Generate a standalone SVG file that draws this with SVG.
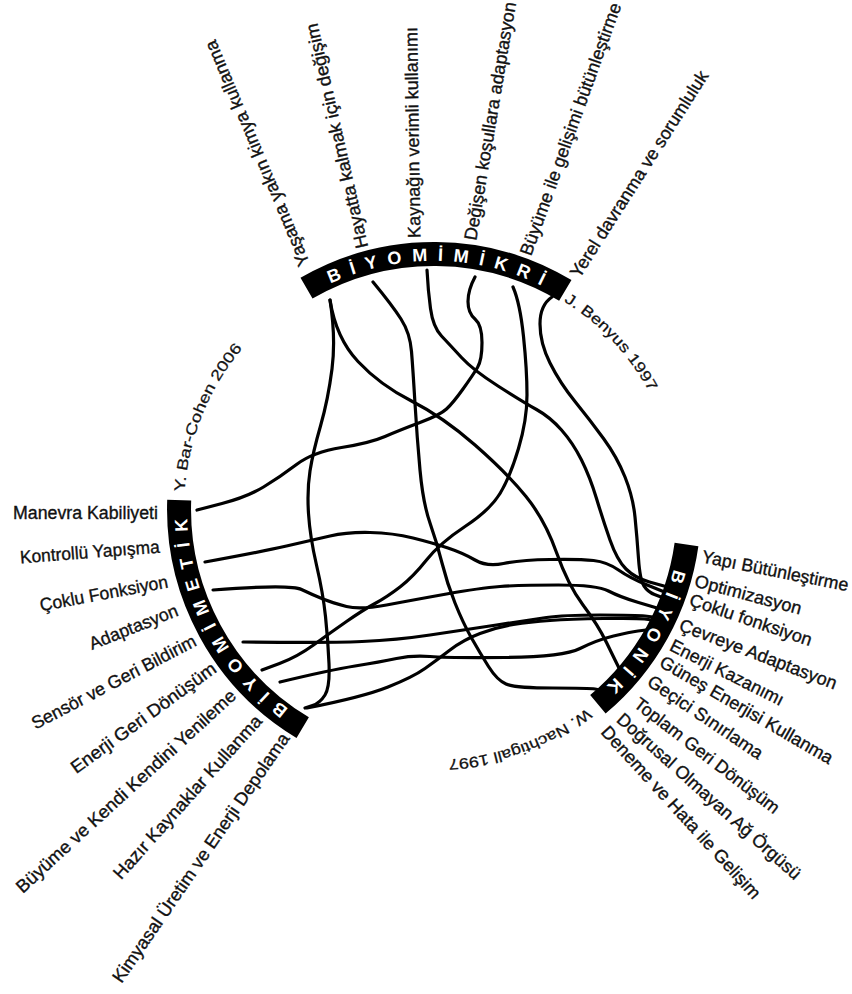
<svg xmlns="http://www.w3.org/2000/svg" width="852" height="994" viewBox="0 0 852 994">
<style>
.band{fill:none;stroke:#000;stroke-width:24;stroke-linecap:butt}
.bt{font-family:"Liberation Sans",Arial,sans-serif;font-weight:bold;font-size:18px;fill:#fff;letter-spacing:10.3px}
.lbl{font-family:"Liberation Sans",Arial,sans-serif;font-size:18px;fill:#111;stroke:#111;stroke-width:0.35}
.cit{font-family:"Liberation Sans",Arial,sans-serif;font-size:15px;fill:#111;stroke:#111;stroke-width:0.25}
.conn{fill:none;stroke:#000;stroke-width:3.2;stroke-linecap:round;stroke-linejoin:round}
</style>
<defs>
<path id="tpTop" d="M223.9,378.1 A247,247 0 0 1 651.5,390.9"/>
<path id="tpLeft" d="M420.6,755.6 A247,247 0 0 1 227.1,374.1"/>
<path id="tpRight" d="M650.2,389.6 A247,247 0 0 1 429.3,756"/>
<path id="tpBar" d="M184.6,491.6 A250,250 0 0 1 260.3,329.2"/>
<path id="tpBen" d="M563.8,301.2 A245,245 0 0 1 664.2,425.2"/>
<path id="tpNac" d="M586.8,708.1 A251,251 0 0 1 412.1,759"/>
</defs>
<rect width="852" height="994" fill="#fff"/>
<g id="connectors">
<path class="conn" d="M330,300 Q336,338 358,361.5 Q380,385 411.5,401 Q443,417 475,445 Q507,473 526,496.5 Q545,520 556.5,552.5 Q568,585 583,605 Q598,625 606.5,642.5 Q615,660 620,670 L625,680"/>
<path class="conn" d="M330,300 Q336,338 332,369 Q328,400 320.5,426 Q313,452 310,471 Q307,490 308.5,513.5 Q310,537 316.5,565 Q323,593 325.5,616.5 Q328,640 329,663.5 Q330,687 325,695 Q320,703 312.5,705.5 L305,708"/>
<path class="conn" d="M373,282 Q392,305 401,319 Q410,333 411.5,351.5 Q413,370 415,403.5 Q417,437 420,470 Q423,503 430,523 Q437,543 442,563 Q447,583 455,603 Q463,623 471.5,638 Q480,653 488.5,666.5 Q497,680 506,684 Q515,688 552.5,688 Q590,688 595,689 L600,690"/>
<path class="conn" d="M427,270 Q428,290 430.5,308.5 Q433,327 441.5,336 Q450,345 461.5,357.5 Q473,370 498,386 Q523,402 536.5,409.5 Q550,417 561.5,430 Q573,443 581.5,460 Q590,477 596.5,498.5 Q603,520 610,540 Q617,560 626,569 Q635,578 649.5,582 L664,586"/>
<path class="conn" d="M475,277 Q468,290 468,301.5 Q468,313 475,319 Q482,325 482,342.5 Q482,360 477.5,367.5 Q473,375 463,389 Q453,403 446.5,409 Q440,415 420,422.5 Q400,430 385,436.5 Q370,443 341.5,447.5 Q313,452 296.5,464.5 Q280,477 263.5,487 Q247,497 222,503.5 L197,510"/>
<path class="conn" d="M513,287 Q520,303 523.5,336.5 Q527,370 527,395 Q527,420 518.5,448.5 Q510,477 500,493.5 Q490,510 465,526.5 Q440,543 426.5,560 Q413,577 400,587 Q387,597 375,603.5 Q363,610 346.5,621.5 Q330,633 313.5,645 Q297,657 279.5,663.5 L262,670"/>
<path class="conn" d="M552,297 Q540,305 540,324 Q540,343 550,363 Q560,383 575,401.5 Q590,420 603.5,438.5 Q617,457 625,477 Q633,497 635,517 Q637,537 638.5,558.5 Q640,580 644,586 Q648,592 654.5,594.5 L661,597"/>
<path class="conn" d="M205,562 Q260,552 286.5,546 Q313,540 330,536 Q347,532 370,532.5 Q393,533 413,538 Q433,543 448,548 Q463,553 475,560 Q487,567 503.5,563.5 Q520,560 550,559.5 Q580,559 593.5,560.5 Q607,562 618.5,570 Q630,578 646,584.5 L662,591"/>
<path class="conn" d="M213,590 Q290,584 301.5,589.5 Q313,595 323,599 Q333,603 346.5,606.5 Q360,610 386.5,605 Q413,600 446.5,594 Q480,588 500,586.5 Q520,585 558.5,585 Q597,585 608.5,591 Q620,597 638.5,602.5 L657,608"/>
<path class="conn" d="M243,642 Q327,643 362,641.5 Q397,640 430,635 Q463,630 496.5,625 Q530,620 546.5,617.5 Q563,615 600,615 Q637,615 645,616 L653,617"/>
<path class="conn" d="M280,682 Q330,670 355,666 Q380,662 396.5,658.5 Q413,655 430,656.5 Q447,658 505,657.5 Q563,657 580,648.5 Q597,640 613.5,636 Q630,632 638,631 L646,630"/>
<path class="conn" d="M307,708 Q363,697 388,687 Q413,677 425,668.5 Q437,660 450,650 Q463,640 480,633.5 Q497,627 513.5,624.5 Q530,622 550,620.5 Q570,619 603.5,618.5 Q637,618 644.5,619 L652,620"/>
</g>
<g id="biyomimikri">
<path class="band" d="M306.5,288.2 A255,255 0 0 1 565.3,290.4"/>
<text class="bt"><textPath href="#tpTop" startOffset="50%" text-anchor="middle">BİYOMİMİKRİ</textPath></text>
<text class="cit"><textPath href="#tpBen" textLength="126" lengthAdjust="spacingAndGlyphs">J. Benyus 1997</textPath></text>
<g class="lbl">
<text transform="translate(305,265) rotate(-112.9)" dy="0.3em" textLength="243" lengthAdjust="spacingAndGlyphs">Yaşama yakın kimya kullanma</text>
<text transform="translate(363,248) rotate(-102.8)" dy="0.3em" textLength="230" lengthAdjust="spacingAndGlyphs">Hayatta kalmak için değişim</text>
<text transform="translate(415,238) rotate(-90.9)" dy="0.3em" textLength="211" lengthAdjust="spacingAndGlyphs">Kaynağın verimli kullanımı</text>
<text transform="translate(471,240) rotate(-80.5)" dy="0.3em" textLength="241" lengthAdjust="spacingAndGlyphs">Değişen koşullara adaptasyon</text>
<text transform="translate(526,255) rotate(-70.2)" dy="0.3em" textLength="267" lengthAdjust="spacingAndGlyphs">Büyüme ile gelişimi bütünleştirme</text>
<text transform="translate(575,276) rotate(-57.5)" dy="0.3em" textLength="241" lengthAdjust="spacingAndGlyphs">Yerel davranma ve sorumluluk</text>
</g>
</g>
<g id="biyomimetik">
<path class="band" d="M302.7,727.6 A255,255 0 0 1 179.2,500.1"/>
<text class="bt"><textPath href="#tpLeft" startOffset="50%" text-anchor="middle">BİYOMİMETİK</textPath></text>
<text class="cit"><textPath href="#tpBar" textLength="157" lengthAdjust="spacingAndGlyphs">Y. Bar-Cohen 2006</textPath></text>
<g class="lbl">
<text transform="translate(13,514)" dy="0.3em" textLength="145" lengthAdjust="spacingAndGlyphs">Manevra Kabiliyeti</text>
<text transform="translate(20,558) rotate(-4.4)" dy="0.3em" textLength="140" lengthAdjust="spacingAndGlyphs">Kontrollü Yapışma</text>
<text transform="translate(40,606) rotate(-10.6)" dy="0.3em" textLength="130" lengthAdjust="spacingAndGlyphs">Çoklu Fonksiyon</text>
<text transform="translate(90,645) rotate(-21.7)" dy="0.3em" textLength="94" lengthAdjust="spacingAndGlyphs">Adaptasyon</text>
<text transform="translate(33,725) rotate(-27.6)" dy="0.3em" textLength="183" lengthAdjust="spacingAndGlyphs">Sensör ve Geri Bildirim</text>
<text transform="translate(73,770) rotate(-36.1)" dy="0.3em" textLength="175" lengthAdjust="spacingAndGlyphs">Enerji Geri Dönüşüm</text>
<text transform="translate(19,890) rotate(-42.5)" dy="0.3em" textLength="291" lengthAdjust="spacingAndGlyphs">Büyüme ve Kendi Kendini Yenileme</text>
<text transform="translate(117,877) rotate(-48.2)" dy="0.3em" textLength="213" lengthAdjust="spacingAndGlyphs">Hazır Kaynaklar Kullanma</text>
<text transform="translate(117,981) rotate(-55.5)" dy="0.3em" textLength="298" lengthAdjust="spacingAndGlyphs">Kimyasal Üretim ve Enerji Depolama</text>
</g>
</g>
<g id="biyonik">
<path class="band" d="M686.5,544.5 A255,255 0 0 1 597.9,704.3"/>
<text class="bt"><textPath href="#tpRight" startOffset="50%" text-anchor="middle">BİYONİK</textPath></text>
<text class="cit"><textPath href="#tpNac" textLength="150" lengthAdjust="spacingAndGlyphs">W. Nachtigall 1997</textPath></text>
<g class="lbl">
<text transform="translate(702,557) rotate(11.2)" dy="0.3em" textLength="149" lengthAdjust="spacingAndGlyphs">Yapı Bütünleştirme</text>
<text transform="translate(695,581) rotate(15)" dy="0.3em" textLength="110" lengthAdjust="spacingAndGlyphs">Optimizasyon</text>
<text transform="translate(690,600) rotate(18.7)" dy="0.3em" textLength="128" lengthAdjust="spacingAndGlyphs">Çoklu fonksiyon</text>
<text transform="translate(680,625) rotate(20.9)" dy="0.3em" textLength="167" lengthAdjust="spacingAndGlyphs">Çevreye Adaptasyon</text>
<text transform="translate(671,645) rotate(26.8)" dy="0.3em" textLength="125" lengthAdjust="spacingAndGlyphs">Enerji Kazanımı</text>
<text transform="translate(661,661) rotate(30.1)" dy="0.3em" textLength="197" lengthAdjust="spacingAndGlyphs">Güneş Enerjisi Kullanma</text>
<text transform="translate(649,680) rotate(34)" dy="0.3em" textLength="135" lengthAdjust="spacingAndGlyphs">Geçici Sınırlama</text>
<text transform="translate(636,702) rotate(37.5)" dy="0.3em" textLength="178" lengthAdjust="spacingAndGlyphs">Toplam Geri Dönüşüm</text>
<text transform="translate(619,717) rotate(41.7)" dy="0.3em" textLength="240" lengthAdjust="spacingAndGlyphs">Doğrusal Olmayan Ağ Örgüsü</text>
<text transform="translate(604,729) rotate(47.6)" dy="0.3em" textLength="227" lengthAdjust="spacingAndGlyphs">Deneme ve Hata ile Gelişim</text>
</g>
</g>
</svg>
